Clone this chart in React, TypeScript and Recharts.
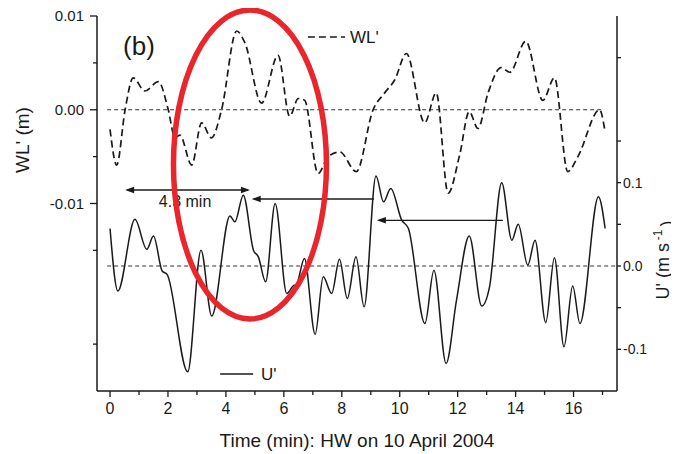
import React from 'react';
import { LineChart, Line, XAxis, YAxis, ReferenceLine, ReferenceDot } from 'recharts';

const FONT = '"Liberation Sans", Arial, Helvetica, sans-serif';
const INK = '#1a1a1a';

// WL' (m) — dashed series
const wlTime = [0.0, 0.23, 0.52, 0.8, 1.2, 1.67, 2.01, 2.24, 2.41, 2.82, 3.16, 3.5, 3.85, 4.37, 4.66, 5.23, 5.8, 6.2, 6.5, 6.72, 7.18, 7.53, 7.93, 8.5, 9.08, 9.48, 9.83, 10.23, 10.86, 11.26, 11.67, 12.07, 12.4, 12.7, 13.05, 13.5, 13.8, 14.35, 14.94, 15.34, 15.8, 16.15, 16.9, 17.07];
const wlValue = [-0.0021, -0.0059, 0.0, 0.0034, 0.002, 0.003, 0.0, -0.003, -0.0027, -0.0059, -0.0014, -0.003, 0.0, 0.0084, 0.0071, 0.0007, 0.0058, -0.0007, 0.0012, 0.001, -0.0068, -0.005, -0.0045, -0.0066, 0.0, 0.0018, 0.0032, 0.006, -0.0014, 0.0018, -0.0089, -0.0048, -0.0002, -0.002, 0.0018, 0.0045, 0.004, 0.0073, 0.001, 0.0034, -0.0066, -0.005, 0.0, -0.002];

// U' (m s-1) — solid series
const uTime = [0.0, 0.27, 0.86, 1.27, 1.5, 1.8, 1.97, 2.68, 3.14, 3.51, 4.14, 4.31, 4.6, 4.95, 5.12, 5.37, 5.7, 6.1, 6.32, 6.44, 6.71, 7.08, 7.36, 7.65, 7.92, 8.19, 8.49, 8.77, 9.18, 9.44, 9.69, 10.07, 10.3, 10.87, 11.18, 11.6, 11.96, 12.4, 12.83, 13.1, 13.52, 13.87, 14.09, 14.42, 14.67, 15.04, 15.34, 15.67, 15.97, 16.22, 16.86, 17.09];
const uValue = [0.045, -0.03, 0.056, 0.02, 0.036, -0.006, -0.01, -0.127, 0.019, -0.06, 0.06, 0.053, 0.085, 0.019, 0.011, -0.019, 0.075, -0.033, -0.024, -0.022, 0.009, -0.082, -0.013, -0.033, 0.008, -0.039, 0.011, -0.049, 0.108, 0.077, 0.093, 0.055, 0.045, -0.069, -0.005, -0.117, -0.041, 0.036, -0.048, -0.025, 0.1, 0.031, 0.05, 0.001, 0.031, -0.068, 0.01, -0.097, -0.024, -0.069, 0.083, 0.045];

// Axes
const xTicks = [0, 1, 2, 3, 4, 5, 6, 7, 8, 9, 10, 11, 12, 13, 14, 15, 16, 17];
const wlTicks = [0.01, 0.005, 0, -0.005, -0.01, -0.015, -0.025];
const uTicks = [0.25, 0.15, 0.1, 0.05, 0, -0.05, -0.1];
const xDomain = [-0.45, 17.5];
const wlDomain = [-0.03, 0.01];
const uDomain = [-0.15, 0.3];

// Annotations (time in min, level on WL' axis)
const arrows = [
  { from: 0.52, to: 4.83, level: -0.00856, both: true },
  { from: 4.89, to: 9.11, level: -0.00952, both: false },
  { from: 9.21, to: 13.56, level: -0.01179, both: false },
];
const intervalLabel = { text: '4.3 min', t: 2.59, level: -0.01032 };
const panelLabel = { text: '(b)', t: 1.0, level: 0.00584 };
const highlight = { t: 4.83, level: -0.00584 };
const wlLegend = { from: 6.83, to: 8.11, level: 0.00776, textT: 8.28, textLevel: 0.00712, text: "WL'" };
const uLegend = { from: 3.8, to: 4.94, level: -0.02819, textT: 5.21, textLevel: -0.02883, text: "U'" };

const wlSeries = wlTime.map((t, i) => ({ t, v: wlValue[i] }));
const uSeries = uTime.map((t, i) => ({ t, v: uValue[i] }));

const isMult = (v: number, step: number) => Math.abs(Math.round(v / step) * step - v) < 1e-9;

const XTick = (props: any) => {
  const { x, y, payload } = props;
  const v = payload.value;
  const major = Math.round(v) % 2 === 0;
  const axisY = y - 11;
  return (
    <g>
      <line x1={x} x2={x} y1={axisY} y2={axisY + (major ? 6 : 4)} stroke={INK} strokeWidth={1.3} />
      {major && (
        <text x={x} y={y} dy="0.72em" textAnchor="middle" fontSize={16} fontFamily={FONT} fill={INK}>
          {v}
        </text>
      )}
    </g>
  );
};

const WLTick = (props: any) => {
  const { x, y, payload } = props;
  const v = payload.value;
  const major = isMult(v, 0.01);
  const axisX = x + 13;
  return (
    <g>
      <line x1={axisX - (major ? 7 : 4)} x2={axisX} y1={y} y2={y} stroke={INK} strokeWidth={1.3} />
      {major && (
        <text x={x} y={y} dy="0.36em" textAnchor="end" fontSize={15} fontFamily={FONT} fill={INK}>
          {(Math.abs(v) < 1e-12 ? 0 : v).toFixed(2)}
        </text>
      )}
    </g>
  );
};

const UTick = (props: any) => {
  const { x, y, payload } = props;
  const v = payload.value;
  const major = isMult(v, 0.1);
  const axisX = x - 6;
  return (
    <g>
      <line x1={axisX} x2={axisX + 4} y1={y} y2={y} stroke={INK} strokeWidth={1.3} />
      {major && (
        <text x={x} y={y} dy="0.36em" textAnchor="start" fontSize={14} fontFamily={FONT} fill={INK}>
          {(Math.abs(v) < 1e-12 ? 0 : v).toFixed(1)}
        </text>
      )}
    </g>
  );
};

const arrowShape = (both: boolean) => (p: any) => {
  const lx = Math.min(p.x1, p.x2);
  const rx = Math.max(p.x1, p.x2);
  const y = p.y1;
  return (
    <g>
      <line x1={lx + 2} x2={both ? rx - 2 : rx} y1={y} y2={y} stroke={INK} strokeWidth={1.3} />
      <polygon points={`${lx},${y} ${lx + 9},${y - 3.2} ${lx + 9},${y + 3.2}`} fill={INK} />
      {both && <polygon points={`${rx},${y} ${rx - 9},${y - 3.2} ${rx - 9},${y + 3.2}`} fill={INK} />}
    </g>
  );
};

const textShape = (text: string, size: number, anchor: string) => (p: any) => (
  <text x={p.cx} y={p.cy} textAnchor={anchor} fontSize={size} fontFamily={FONT} fill={INK}>
    {text}
  </text>
);

const ellipseShape = (p: any) => (
  <ellipse cx={p.cx} cy={p.cy} rx={76.5} ry={154.5} fill="none" stroke="#e8262b" strokeWidth={5.5} />
);

const axisLine = { stroke: INK, strokeWidth: 1.5 };

export default function App() {
  return (
    <LineChart width={671} height={446} margin={{ top: 8, right: 0, bottom: 0, left: 0 }}>
      <XAxis
        dataKey="t"
        type="number"
        domain={xDomain}
        ticks={xTicks}
        interval={0}
        tick={<XTick />}
        tickLine={false}
        tickSize={6}
        tickMargin={5}
        axisLine={axisLine}
        height={63}
        allowDataOverflow
        label={{
          content: (p: any) => {
            const vb = p.viewBox;
            return (
              <text x={vb.x + vb.width / 2} y={vb.y + 56} textAnchor="middle" fontSize={19} fontFamily={FONT} fill={INK}>
                Time (min): HW on 10 April 2004
              </text>
            );
          },
        }}
      />
      <XAxis xAxisId="top" orientation="top" type="number" domain={xDomain} allowDataOverflow tick={false} tickLine={false} height={0} axisLine={axisLine} />
      <YAxis
        yAxisId="wl"
        type="number"
        domain={wlDomain}
        ticks={wlTicks}
        interval={0}
        tick={<WLTick />}
        tickLine={false}
        tickSize={7}
        tickMargin={6}
        axisLine={axisLine}
        width={89}
        allowDataOverflow
        label={{
          content: (p: any) => {
            const vb = p.viewBox;
            return (
              <text
                transform={`translate(${vb.x + 14}, ${vb.y + 124}) rotate(-90)`}
                dy="0.36em"
                textAnchor="middle"
                fontSize={19}
                fontFamily={FONT}
                fill={INK}
              >
                WL' (m)
              </text>
            );
          },
        }}
      />
      <YAxis
        yAxisId="u"
        orientation="right"
        type="number"
        domain={uDomain}
        ticks={uTicks}
        interval={0}
        tick={<UTick />}
        tickLine={false}
        tickSize={4}
        tickMargin={2}
        axisLine={axisLine}
        width={62}
        allowDataOverflow
        label={{
          content: (p: any) => {
            const vb = p.viewBox;
            return (
              <text
                transform={`translate(${vb.x + 46}, ${vb.y + 244}) rotate(-90)`}
                dy="0.36em"
                textAnchor="middle"
                fontSize={18}
                fontFamily={FONT}
                fill={INK}
              >
                U' (m s
                <tspan fontSize={12} dy="-0.6em" dx="3">-1</tspan>
                <tspan dy="0.6em" dx="3">)</tspan>
              </text>
            );
          },
        }}
      />

      <ReferenceLine yAxisId="wl" segment={[{ x: -0.1, y: 0 }, { x: 17.0, y: 0 }]} stroke="#333" strokeWidth={1.2} strokeDasharray="4 3" />
      <ReferenceLine yAxisId="u" segment={[{ x: -0.1, y: 0 }, { x: 17.45, y: 0 }]} stroke="#333" strokeWidth={1.2} strokeDasharray="4 3" />

      <Line yAxisId="wl" data={wlSeries} dataKey="v" type="monotone" stroke={INK} strokeWidth={1.7} strokeDasharray="7 4" dot={false} isAnimationActive={false} />
      <Line yAxisId="u" data={uSeries} dataKey="v" type="monotone" stroke={INK} strokeWidth={1.5} dot={false} isAnimationActive={false} />

      {arrows.map((a, i) => (
        <ReferenceLine
          key={`arr${i}`}
          yAxisId="wl"
          segment={[{ x: a.from, y: a.level }, { x: a.to, y: a.level }]}
          shape={arrowShape(a.both)}
        />
      ))}
      <ReferenceDot yAxisId="wl" x={intervalLabel.t} y={intervalLabel.level} r={0} shape={textShape(intervalLabel.text, 16, 'middle')} />
      <ReferenceDot yAxisId="wl" x={panelLabel.t} y={panelLabel.level} r={0} shape={textShape(panelLabel.text, 26, 'middle')} />

      <ReferenceLine yAxisId="wl" segment={[{ x: wlLegend.from, y: wlLegend.level }, { x: wlLegend.to, y: wlLegend.level }]} stroke={INK} strokeWidth={1.7} strokeDasharray="7 4" />
      <ReferenceDot yAxisId="wl" x={wlLegend.textT} y={wlLegend.textLevel} r={0} shape={textShape(wlLegend.text, 17, 'start')} />
      <ReferenceLine yAxisId="wl" segment={[{ x: uLegend.from, y: uLegend.level }, { x: uLegend.to, y: uLegend.level }]} stroke={INK} strokeWidth={1.5} />
      <ReferenceDot yAxisId="wl" x={uLegend.textT} y={uLegend.textLevel} r={0} shape={textShape(uLegend.text, 17, 'start')} />

      <ReferenceDot yAxisId="wl" x={highlight.t} y={highlight.level} r={0} shape={ellipseShape} />
    </LineChart>
  );
}
